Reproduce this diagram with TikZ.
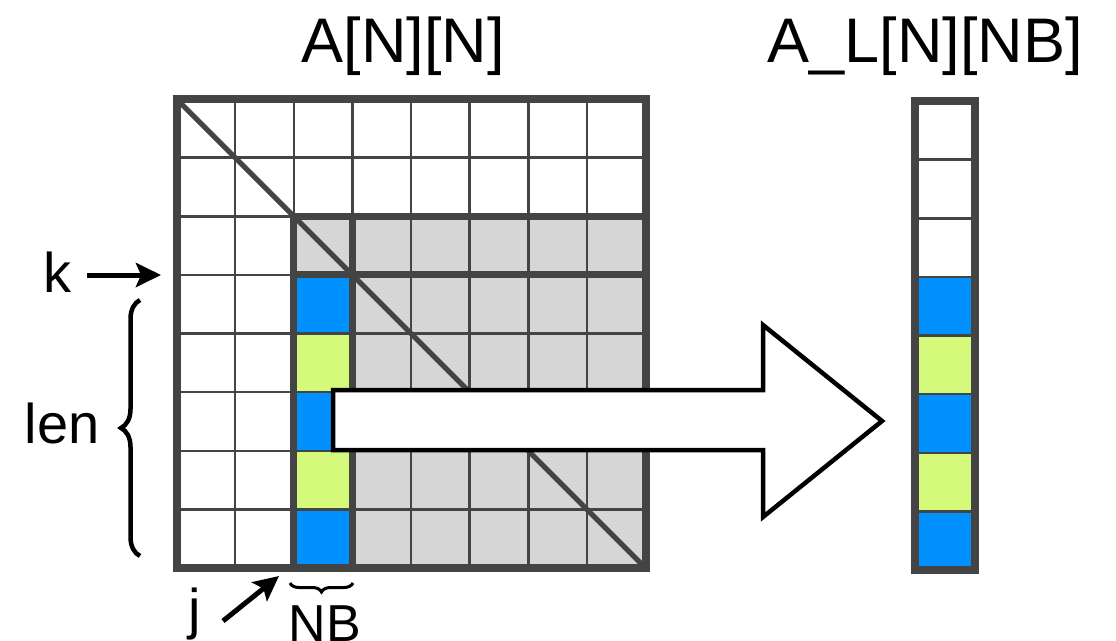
\documentclass[tikz,border=0pt]{standalone}
\usepackage{fontspec}
\setmainfont{Liberation Sans}
\usetikzlibrary{arrows.meta,decorations.pathreplacing}
\definecolor{gridc}{HTML}{444444}
\definecolor{greyc}{HTML}{D6D6D6}
\definecolor{bluec}{HTML}{0091FF}
\definecolor{greenc}{HTML}{D5F97A}
\tikzset{
  thinline/.style={draw=gridc, line width=2.5pt},
  thickline/.style={draw=gridc, line width=8pt},
  midline/.style={draw=gridc, line width=7pt},
  title/.style={font=\fontsize{63}{70}\selectfont, inner sep=0pt, anchor=base},
  lab/.style={font=\fontsize{56}{64}\selectfont, inner sep=0pt, anchor=base},
  smalllab/.style={font=\fontsize{52}{60}\selectfont, inner sep=0pt, anchor=base},
  pointer/.style={draw=black, line width=5pt, -{Stealth[length=25pt,width=24pt,inset=5pt]}},
  bigarrow/.style={draw=black, fill=white, line width=4.5pt, line join=miter},
}
\begin{document}
\begin{tikzpicture}[x=1pt,y=-1pt]
\useasboundingbox (0,0) rectangle (1116,640);
\def\gx{176.5}\def\gy{99}\def\g{58.625}
% grey region
\fill[greyc] ({\gx+2*\g},{\gy+2*\g}) rectangle ({\gx+8*\g},{\gy+8*\g});
% panel colours
\foreach \r/\c in {3/bluec,4/greenc,5/bluec,6/greenc,7/bluec}{
  \fill[\c] ({\gx+2*\g},{\gy+\r*\g}) rectangle ({\gx+3*\g},{\gy+(\r+1)*\g});
}
% thin grid
\foreach \i in {1,...,7}{
  \draw[thinline] ({\gx+\i*\g},\gy) -- ({\gx+\i*\g},{\gy+8*\g});
  \draw[thinline] (\gx,{\gy+\i*\g}) -- ({\gx+8*\g},{\gy+\i*\g});
}
% diagonal
\draw[draw=gridc, line width=5pt] (\gx,\gy) -- ({\gx+8*\g},{\gy+8*\g});
% thick lines
\draw[midline] ({\gx+2*\g},{\gy+2*\g}) rectangle ({\gx+8*\g},{\gy+8*\g});
\draw[midline] ({\gx+2*\g},{\gy+3*\g}) -- ({\gx+8*\g},{\gy+3*\g});
\draw[midline] ({\gx+3*\g},{\gy+2*\g}) -- ({\gx+3*\g},{\gy+8*\g});
\draw[thickline] (\gx,\gy) rectangle ({\gx+8*\g},{\gy+8*\g});
% right column
\def\rx{914.5}\def\ry{101}\def\rw{60}
\foreach \r/\c in {3/bluec,4/greenc,5/bluec,6/greenc,7/bluec}{
  \fill[\c] (\rx,{\ry+\r*\g}) rectangle ({\rx+\rw},{\ry+(\r+1)*\g});
}
\foreach \i in {1,...,7}{
  \draw[thinline] (\rx,{\ry+\i*\g}) -- ({\rx+\rw},{\ry+\i*\g});
}
\draw[thickline] (\rx,\ry) rectangle ({\rx+\rw},{\ry+8*\g});
% big arrow
\draw[bigarrow] (333,390) -- (763,390) -- (763,325) -- (882,421) -- (763,517) -- (763,450) -- (333,450) -- cycle;
% titles
\node[title] (tA) at (403,62) {A[N][N]};
\node[title] (tAL) at (925,62) {A\_L[N][NB]};
% k label
\node[lab] (k) at (57,292) {k};
\coordinate (kend) at (161,275);
\draw[pointer] (87,275) -- (kend);
% len
\node[lab] (len) at (62,443) {len};
\coordinate (lenbot) at (140,556);
\coordinate (lentop) at (140,300);
\draw[line width=4.5pt, decorate, decoration={brace, amplitude=19pt}] (lenbot) -- (lentop);
% j
\node[lab] (j) at (195,628) {j};
\coordinate (jtail) at (223,621);
\coordinate (jend) at (279,576);
\draw[pointer] (jtail) -- (jend);
% NB
\node[smalllab] (nb) at (325,641) {NB};
\coordinate (nbr) at (353,583);
\coordinate (nbl) at (290,583);
\draw[line width=3pt, decorate, decoration={brace, amplitude=9pt}] (nbr) -- (nbl);
\end{tikzpicture}
\end{document}
